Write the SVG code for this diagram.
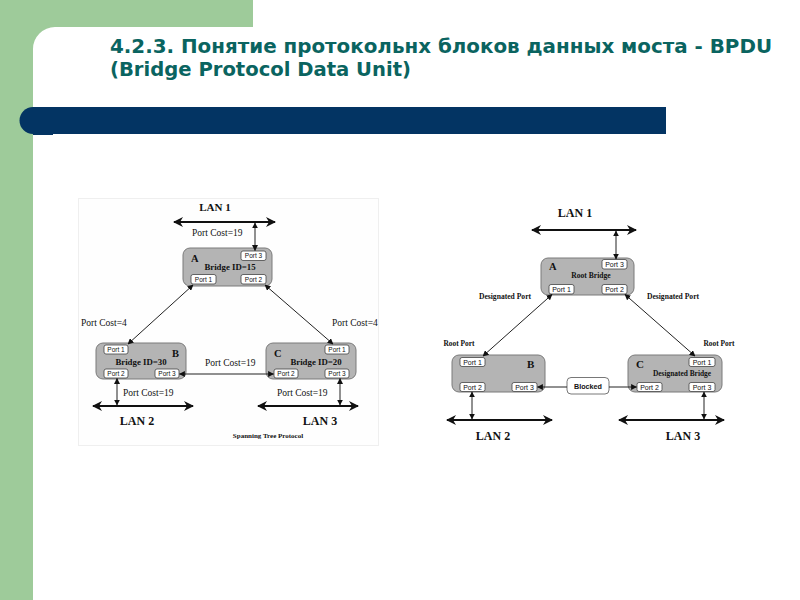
<svg xmlns="http://www.w3.org/2000/svg" width="800" height="600" viewBox="0 0 800 600">
<defs>
<marker id="ah" viewBox="0 0 10 10" refX="9" refY="5" markerWidth="6" markerHeight="6" markerUnits="userSpaceOnUse" orient="auto-start-reverse"><path d="M0,0 L10,5 L0,10 z" fill="#111"/></marker>
<marker id="big" viewBox="0 0 10 10" refX="9" refY="5" markerWidth="11" markerHeight="10" markerUnits="userSpaceOnUse" orient="auto-start-reverse"><path d="M0,0 L10,5 L0,10 L3,5 z" fill="#111"/></marker>
<style>
.bridge{fill:#b4b4b4;stroke:#7a7a7a;stroke-width:1}
.port{fill:#fff;stroke:#444;stroke-width:0.8}
.pt{font-family:"Liberation Sans",Arial,sans-serif;font-size:6.5px;fill:#111;text-anchor:middle}
.pt2{font-family:"Liberation Sans",Arial,sans-serif;font-size:7px;fill:#111;text-anchor:middle}
.ser{font-family:"Liberation Serif","Times New Roman",serif;fill:#111}
.cost{font-size:9.5px}
.bold{font-weight:bold}
.lan{stroke:#111;stroke-width:2.2;fill:none}
.con{stroke:#222;stroke-width:1;fill:none}
.title{font-family:"DejaVu Sans Condensed","DejaVu Sans",sans-serif;font-weight:bold;font-size:19px;fill:#0a6460}
</style>
</defs>
<!-- background -->
<rect x="0" y="0" width="800" height="600" fill="#ffffff"/>
<rect x="0" y="0" width="33" height="600" fill="#9ecb9a"/>
<rect x="0" y="0" width="253" height="27" fill="#9ecb9a"/>
<path d="M33,27 L55,27 A22,22 0 0 0 33,49 Z" fill="#9ecb9a"/>
<!-- title -->
<text class="title" x="110" y="53" textLength="662" lengthAdjust="spacingAndGlyphs">4.2.3. Понятие протокольнх блоков данных моста - BPDU</text>
<text class="title" x="110" y="76" textLength="301" lengthAdjust="spacingAndGlyphs">(Bridge Protocol Data Unit)</text>
<!-- bar -->
<path d="M33,107 L666,107 L666,134 L33,134 A13.5,13.5 0 0 1 33,107 Z" fill="#033463"/>
<rect x="33" y="131" width="20" height="4" fill="#033463"/>

<!-- left diagram background -->
<rect x="78.5" y="198.5" width="300" height="247" fill="#fefefe" stroke="#efefef" stroke-width="1"/>

<g id="labels-left">
<text class="ser bold" x="215" y="211" font-size="11" text-anchor="middle">LAN 1</text>
<text class="ser cost" x="192" y="236">Port Cost=19</text>
<text class="ser cost" x="81" y="326">Port Cost=4</text>
<text class="ser cost" x="332" y="326">Port Cost=4</text>
<text class="ser cost" x="205" y="366">Port Cost=19</text>
<text class="ser cost" x="123" y="396">Port Cost=19</text>
<text class="ser cost" x="277" y="396">Port Cost=19</text>
<text class="ser bold" x="137" y="425" font-size="12" text-anchor="middle">LAN 2</text>
<text class="ser bold" x="320" y="425" font-size="12" text-anchor="middle">LAN 3</text>
<text class="ser bold" x="268" y="438" font-size="7" text-anchor="middle">Spanning Tree Protocol</text>
</g>

<g id="bridgeA-left">
<rect class="bridge" x="183" y="248" width="89" height="38" rx="7"/>
<rect class="port" x="241" y="251" width="25" height="9.5" rx="2"/><text class="pt" x="253.5" y="258.3">Port 3</text>
<rect class="port" x="191" y="274.5" width="25" height="9.5" rx="2"/><text class="pt" x="203.5" y="281.8">Port 1</text>
<rect class="port" x="241" y="274.5" width="25" height="9.5" rx="2"/><text class="pt" x="253.5" y="281.8">Port 2</text>
<text class="ser bold" x="191" y="262" font-size="10.5">A</text>
<text class="ser bold" x="230" y="270" font-size="8.8" text-anchor="middle">Bridge ID=15</text>
</g>

<g id="bridgeB-left">
<rect class="bridge" x="96" y="343" width="90" height="36" rx="7"/>
<rect class="port" x="104" y="345" width="24" height="9" rx="2"/><text class="pt" x="116" y="351.8">Port 1</text>
<rect class="port" x="104" y="369" width="24" height="9" rx="2"/><text class="pt" x="116" y="375.8">Port 2</text>
<rect class="port" x="155" y="369" width="24" height="9" rx="2"/><text class="pt" x="167" y="375.8">Port 3</text>
<text class="ser bold" x="172" y="357" font-size="10.5">B</text>
<text class="ser bold" x="141" y="365" font-size="8.8" text-anchor="middle">Bridge ID=30</text>
</g>

<g id="bridgeC-left">
<rect class="bridge" x="266" y="343" width="90" height="36" rx="7"/>
<rect class="port" x="325" y="345" width="24" height="9" rx="2"/><text class="pt" x="337" y="351.8">Port 1</text>
<rect class="port" x="274" y="369" width="24" height="9" rx="2"/><text class="pt" x="286" y="375.8">Port 2</text>
<rect class="port" x="325" y="369" width="24" height="9" rx="2"/><text class="pt" x="337" y="375.8">Port 3</text>
<text class="ser bold" x="274" y="357" font-size="10.5">C</text>
<text class="ser bold" x="316" y="365" font-size="8.8" text-anchor="middle">Bridge ID=20</text>
</g>

<g id="labels-right">
<text class="ser bold" x="575" y="217" font-size="12" text-anchor="middle">LAN 1</text>
<text class="ser bold" x="505" y="299" font-size="7.6" text-anchor="middle">Designated Port</text>
<text class="ser bold" x="673" y="299" font-size="7.6" text-anchor="middle">Designated Port</text>
<text class="ser bold" x="459" y="346" font-size="7.4" text-anchor="middle">Root Port</text>
<text class="ser bold" x="719" y="346" font-size="7.4" text-anchor="middle">Root Port</text>
<text class="ser bold" x="493" y="440" font-size="12" text-anchor="middle">LAN 2</text>
<text class="ser bold" x="683" y="440" font-size="12" text-anchor="middle">LAN 3</text>
</g>

<g id="bridgeA-right">
<rect class="bridge" x="541" y="258" width="93" height="37" rx="7"/>
<rect class="port" x="602" y="259.5" width="25" height="9.5" rx="2"/><text class="pt2" x="614.5" y="267">Port 3</text>
<rect class="port" x="549" y="284.5" width="25" height="9.5" rx="2"/><text class="pt2" x="561.5" y="292">Port 1</text>
<rect class="port" x="602" y="284.5" width="25" height="9.5" rx="2"/><text class="pt2" x="614.5" y="292">Port 2</text>
<text class="ser bold" x="549" y="270" font-size="10.5">A</text>
<text class="ser bold" x="591" y="278" font-size="7.6" text-anchor="middle">Root Bridge</text>
</g>

<g id="bridgeB-right">
<rect class="bridge" x="452" y="355" width="93" height="37" rx="7"/>
<rect class="port" x="460" y="357.5" width="25" height="9" rx="2"/><text class="pt2" x="472.5" y="364.7">Port 1</text>
<rect class="port" x="460" y="382.5" width="25" height="9" rx="2"/><text class="pt2" x="472.5" y="389.7">Port 2</text>
<rect class="port" x="512" y="382.5" width="25" height="9" rx="2"/><text class="pt2" x="524.5" y="389.7">Port 3</text>
<text class="ser bold" x="527" y="368" font-size="11">B</text>
</g>

<g id="blocked">
<rect x="567" y="377.5" width="42" height="16.5" rx="4" fill="#fff" stroke="#555" stroke-width="0.8"/>
<text x="588" y="388.5" font-family="Liberation Sans,Arial,sans-serif" font-size="7.2" font-weight="bold" fill="#111" text-anchor="middle">Blocked</text>
</g>

<g id="bridgeC-right">
<rect class="bridge" x="628" y="355" width="94" height="37" rx="7"/>
<rect class="port" x="689" y="357.5" width="26" height="9" rx="2"/><text class="pt2" x="702" y="364.7">Port 1</text>
<rect class="port" x="637" y="382.5" width="25" height="9" rx="2"/><text class="pt2" x="649.5" y="389.7">Port 2</text>
<rect class="port" x="689" y="382.5" width="26" height="9" rx="2"/><text class="pt2" x="702" y="389.7">Port 3</text>
<text class="ser bold" x="636" y="368" font-size="11">C</text>
<text class="ser bold" x="682" y="376" font-size="7.4" text-anchor="middle">Designated Bridge</text>
</g>

<g id="connectors">
<line class="lan" x1="174" y1="222" x2="275" y2="222" marker-start="url(#big)" marker-end="url(#big)"/>
<line class="con" x1="255" y1="223" x2="255" y2="250.5" marker-start="url(#ah)" marker-end="url(#ah)"/>
<line class="con" x1="193" y1="285" x2="128" y2="344" marker-start="url(#ah)" marker-end="url(#ah)"/>
<line class="con" x1="265" y1="285" x2="333" y2="344" marker-start="url(#ah)" marker-end="url(#ah)"/>
<line class="con" x1="179.5" y1="374" x2="273.5" y2="374" marker-start="url(#ah)" marker-end="url(#ah)"/>
<line class="con" x1="117" y1="378.5" x2="117" y2="405" marker-start="url(#ah)" marker-end="url(#ah)"/>
<line class="lan" x1="93" y1="406" x2="193" y2="406" marker-start="url(#big)" marker-end="url(#big)"/>
<line class="con" x1="340" y1="378.5" x2="340" y2="405" marker-start="url(#ah)" marker-end="url(#ah)"/>
<line class="lan" x1="258" y1="406" x2="358" y2="406" marker-start="url(#big)" marker-end="url(#big)"/>

<line class="lan" x1="532" y1="230" x2="636" y2="230" marker-start="url(#big)" marker-end="url(#big)"/>
<line class="con" x1="616" y1="231" x2="616" y2="259" marker-start="url(#ah)" marker-end="url(#ah)"/>
<line class="con" x1="552" y1="294.5" x2="483" y2="356" marker-start="url(#ah)" marker-end="url(#ah)"/>
<line class="con" x1="625" y1="294.5" x2="695" y2="356" marker-start="url(#ah)" marker-end="url(#ah)"/>
<line class="con" x1="537.5" y1="387" x2="567" y2="387" marker-start="url(#ah)"/>
<line class="con" x1="609" y1="387" x2="636.5" y2="387" marker-end="url(#ah)"/>
<line class="con" x1="472" y1="392" x2="472" y2="419" marker-start="url(#ah)" marker-end="url(#ah)"/>
<line class="lan" x1="447" y1="420" x2="552" y2="420" marker-start="url(#big)" marker-end="url(#big)"/>
<line class="con" x1="704" y1="392" x2="704" y2="419" marker-start="url(#ah)" marker-end="url(#ah)"/>
<line class="lan" x1="619" y1="420" x2="724" y2="420" marker-start="url(#big)" marker-end="url(#big)"/>
</g>
</svg>
